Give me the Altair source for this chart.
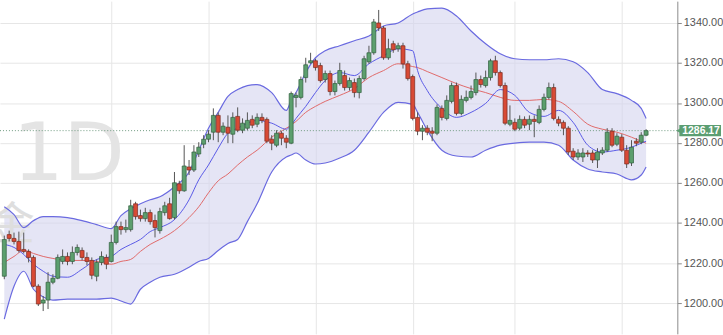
import altair as alt
import pandas as pd
import numpy as np

# ---------------- data ----------------
opens = [1213.4, 1234.2, 1232.3, 1230.8, 1226.8, 1225.8, 1222.8, 1208.4, 1200.0, 1201.5,
         1210.4, 1212.4, 1220.8, 1223.3, 1220.8, 1225.3, 1226.3, 1222.8, 1221.3, 1213.4,
         1220.3, 1222.8, 1220.8, 1230.3, 1238.2, 1236.7, 1236.7, 1249.6, 1243.7, 1242.2,
         1245.2, 1241.2, 1236.2, 1245.2, 1249.6, 1242.7, 1259.6, 1256.1, 1268.0, 1266.5,
         1274.5, 1279.4, 1281.9, 1285.4, 1293.8, 1285.4, 1287.9, 1284.4, 1293.3, 1286.4,
         1287.4, 1291.8, 1289.4, 1292.8, 1291.8, 1281.9, 1278.9, 1284.9, 1282.4, 1279.9,
         1302.8, 1302.8, 1312.7, 1320.1, 1321.1, 1318.7, 1311.7, 1314.7, 1305.7, 1309.7,
         1313.7, 1307.7, 1310.2, 1305.2, 1312.2, 1320.6, 1325.1, 1340.0, 1337.5, 1322.6,
         1329.6, 1327.1, 1328.6, 1319.6, 1313.2, 1292.8, 1285.9, 1287.4, 1285.9, 1284.9,
         1297.3, 1292.3, 1300.8, 1308.7, 1294.8, 1301.3, 1302.8, 1305.2, 1311.7, 1308.7,
         1312.7, 1321.1, 1315.2, 1308.7, 1289.4, 1290.3, 1287.4, 1291.8, 1289.4, 1291.8,
         1290.3, 1296.8, 1302.8, 1307.7, 1291.8, 1290.3, 1287.4, 1275.9, 1273.0, 1273.0,
         1275.0, 1275.0, 1271.5, 1275.0, 1276.4, 1285.9, 1279.4, 1282.9, 1276.4, 1270.0,
         1280.9, 1280.4, 1283.9]
closes = [1231.8, 1232.3, 1230.8, 1226.3, 1225.8, 1222.8, 1208.4, 1199.5, 1201.5, 1210.4,
          1212.4, 1222.8, 1223.3, 1220.8, 1225.3, 1227.8, 1222.8, 1220.8, 1213.9, 1220.3,
          1223.3, 1219.4, 1230.3, 1238.2, 1236.7, 1237.7, 1248.6, 1243.2, 1242.2, 1245.2,
          1240.7, 1237.7, 1245.7, 1248.6, 1242.2, 1260.1, 1256.1, 1268.5, 1266.5, 1275.5,
          1277.9, 1281.9, 1284.4, 1293.8, 1285.4, 1288.4, 1284.9, 1292.8, 1286.4, 1289.9,
          1291.3, 1288.9, 1292.8, 1291.3, 1280.9, 1279.9, 1284.9, 1282.4, 1280.4, 1304.7,
          1303.8, 1311.7, 1319.1, 1321.1, 1317.7, 1311.2, 1314.7, 1305.7, 1309.7, 1316.2,
          1307.7, 1311.2, 1305.2, 1312.2, 1322.1, 1325.1, 1340.5, 1337.5, 1322.6, 1327.1,
          1326.6, 1328.6, 1319.6, 1312.2, 1292.3, 1285.9, 1287.4, 1285.4, 1284.9, 1297.8,
          1292.8, 1301.3, 1308.7, 1294.8, 1301.8, 1302.8, 1305.7, 1311.7, 1309.2, 1312.7,
          1321.1, 1315.2, 1308.7, 1289.9, 1291.3, 1286.9, 1291.8, 1288.9, 1291.8, 1290.8,
          1296.8, 1302.8, 1307.7, 1292.3, 1289.9, 1287.4, 1275.5, 1273.0, 1275.0, 1275.0,
          1274.5, 1271.5, 1275.5, 1276.4, 1285.4, 1278.9, 1283.4, 1276.4, 1269.5, 1277.9,
          1279.9, 1283.9, 1286.17]
highs = [1233.7, 1236.2, 1235.2, 1235.7, 1235.2, 1226.8, 1223.8, 1209.4, 1203.5, 1215.4,
         1214.4, 1224.3, 1226.8, 1225.3, 1228.3, 1229.3, 1227.8, 1225.3, 1222.8, 1221.8,
         1225.8, 1224.3, 1234.2, 1240.7, 1240.7, 1241.7, 1251.6, 1250.6, 1246.7, 1247.6,
         1246.7, 1244.2, 1247.6, 1250.6, 1252.6, 1265.5, 1261.1, 1278.9, 1271.5, 1278.9,
         1280.4, 1283.9, 1286.4, 1297.3, 1295.3, 1290.3, 1293.8, 1295.3, 1297.8, 1292.3,
         1295.3, 1293.8, 1294.8, 1294.8, 1292.8, 1283.9, 1286.4, 1285.9, 1283.9, 1305.7,
         1305.2, 1313.2, 1322.6, 1325.1, 1322.1, 1320.1, 1316.2, 1316.2, 1311.2, 1320.1,
         1316.2, 1312.7, 1312.2, 1313.7, 1323.6, 1328.6, 1342.0, 1346.5, 1338.5, 1332.1,
         1331.1, 1330.1, 1330.1, 1321.1, 1314.2, 1295.3, 1288.9, 1288.9, 1287.9, 1299.3,
         1298.8, 1303.8, 1310.2, 1310.2, 1303.8, 1306.2, 1308.7, 1315.2, 1313.7, 1316.2,
         1322.1, 1323.6, 1316.2, 1310.2, 1298.8, 1292.3, 1293.8, 1293.3, 1293.8, 1293.8,
         1298.8, 1304.7, 1310.2, 1309.7, 1293.3, 1291.3, 1288.4, 1277.4, 1276.9, 1277.4,
         1276.4, 1276.4, 1277.4, 1277.9, 1287.4, 1287.4, 1284.9, 1284.4, 1278.9, 1281.4,
         1282.4, 1285.4, 1286.9]
lows = [1211.9, 1230.8, 1229.3, 1225.3, 1224.8, 1220.3, 1207.9, 1198.5, 1196.0, 1197.0,
        1209.4, 1211.9, 1219.4, 1218.9, 1219.4, 1223.8, 1221.3, 1218.9, 1211.9, 1210.9,
        1218.9, 1216.9, 1220.3, 1229.3, 1234.2, 1235.2, 1235.7, 1241.7, 1240.7, 1240.7,
        1239.2, 1232.8, 1234.7, 1243.7, 1241.7, 1241.7, 1254.6, 1255.6, 1264.0, 1265.5,
        1273.0, 1277.4, 1280.4, 1281.4, 1280.4, 1283.9, 1279.9, 1279.9, 1285.4, 1284.9,
        1286.4, 1287.4, 1287.9, 1289.9, 1279.9, 1276.4, 1277.9, 1278.9, 1277.4, 1279.4,
        1297.8, 1301.8, 1310.2, 1319.6, 1316.2, 1310.2, 1310.2, 1303.8, 1303.8, 1308.7,
        1306.2, 1306.2, 1302.8, 1302.3, 1311.2, 1319.6, 1324.1, 1336.0, 1321.6, 1321.6,
        1325.1, 1325.6, 1317.2, 1311.2, 1291.3, 1283.9, 1281.4, 1283.9, 1280.9, 1283.9,
        1291.3, 1291.3, 1299.8, 1293.8, 1293.8, 1300.3, 1301.8, 1303.8, 1307.7, 1307.7,
        1311.2, 1313.7, 1307.7, 1288.9, 1288.4, 1285.9, 1286.4, 1287.4, 1286.4, 1282.9,
        1289.4, 1295.8, 1301.8, 1291.3, 1288.4, 1283.9, 1274.0, 1271.5, 1271.5, 1270.5,
        1273.0, 1270.0, 1267.5, 1274.0, 1275.5, 1277.9, 1278.4, 1275.5, 1267.5, 1268.5,
        1278.4, 1279.4, 1283.4]

band_idx = [0, 2, 4, 6, 8, 10, 13, 16, 19, 22, 24, 26, 28, 30, 32, 35, 38, 40, 42, 44,
            46, 48, 50, 52, 55, 58, 59, 60, 62, 64, 66, 69, 72, 75, 78, 81, 84, 85, 87, 90,
            93, 96, 99, 102, 105, 108, 111, 114, 117, 120, 123, 126, 129, 131, 132]
upper_band = [1248.1, 1244.2, 1237.7, 1241.2, 1243.2, 1243.2, 1242.7, 1241.2, 1239.2, 1237.2,
              1243.7, 1247.2, 1249.6, 1251.6, 1253.1, 1258.1, 1265.5, 1276.4, 1287.4, 1295.3,
              1303.3, 1306.7, 1308.7, 1309.2, 1305.2, 1296.3, 1301.3, 1305.2, 1315.2, 1322.6,
              1326.1, 1328.6, 1331.1, 1333.5, 1338.5, 1340.0, 1344.5, 1345.5, 1347.0, 1347.4,
              1343.5, 1336.0, 1329.6, 1324.6, 1322.1, 1321.6, 1321.6, 1322.1, 1320.6, 1315.2,
              1306.7, 1304.7, 1301.3, 1297.3, 1292.3]
lower_band = [1192.0, 1208.4, 1215.9, 1206.9, 1203.0, 1201.5, 1202.0, 1202.0, 1202.0, 1202.5,
              1201.0, 1199.5, 1206.9, 1210.4, 1212.9, 1214.4, 1217.9, 1220.8, 1222.3, 1226.3,
              1229.8, 1231.8, 1240.7, 1249.6, 1265.5, 1273.0, 1274.0, 1275.0, 1271.5, 1269.5,
              1270.0, 1272.5, 1276.4, 1285.4, 1295.3, 1300.3, 1299.3, 1295.3, 1286.4, 1276.4,
              1273.5, 1273.0, 1276.4, 1278.9, 1279.9, 1280.4, 1280.4, 1278.9, 1271.5, 1267.0,
              1265.5, 1264.5, 1261.6, 1264.0, 1268.0]
mid_band = [1220.3, 1223.3, 1226.3, 1224.8, 1223.3, 1222.3, 1221.3, 1221.3, 1220.8, 1219.4,
            1220.8, 1221.8, 1225.8, 1229.3, 1231.8, 1236.2, 1242.7, 1248.1, 1255.1, 1261.1,
            1264.5, 1269.0, 1273.0, 1276.4, 1282.9, 1287.4, 1288.9, 1290.8, 1295.3, 1298.3,
            1300.8, 1303.8, 1307.2, 1312.7, 1316.2, 1319.6, 1318.2, 1317.7, 1315.7, 1312.7,
            1309.7, 1307.2, 1305.2, 1302.8, 1301.3, 1301.3, 1301.8, 1300.8, 1295.8, 1289.4,
            1286.9, 1285.4, 1282.9, 1280.9, 1279.9]
fast_ma = [1229.3, 1227.8, 1224.3, 1219.4, 1215.9, 1213.4, 1212.9, 1216.9, 1221.8, 1223.3,
           1226.8, 1229.3, 1231.8, 1235.7, 1237.7, 1241.7, 1251.6, 1261.6, 1269.0, 1277.4,
           1284.9, 1287.4, 1289.9, 1291.3, 1289.9, 1286.9, 1288.9, 1292.3, 1298.3, 1305.2,
           1311.2, 1315.2, 1313.7, 1319.6, 1323.6, 1327.1, 1326.1, 1316.2, 1306.2, 1297.3,
           1292.8, 1295.3, 1299.8, 1306.7, 1303.8, 1295.3, 1293.3, 1296.3, 1290.3, 1278.9,
           1275.5, 1276.4, 1277.9, 1279.9, 1280.9]

month_grid = [22, 42, 64, 84, 105, 127]
price_ticks = [1200, 1220, 1240, 1260, 1280, 1300, 1320, 1340]
last_price = 1286.17

# ---------------- frames ----------------
candles = pd.DataFrame({"i": np.arange(len(opens)), "open": opens, "close": closes,
                        "high": highs, "low": lows})
candles["dir"] = np.where(candles["close"] >= candles["open"], "up", "down")
bands = pd.DataFrame({"i": band_idx, "upper": upper_band, "lower": lower_band,
                      "mid": mid_band, "fast": fast_ma})
last_df = pd.DataFrame({"p": [last_price], "lo": [last_price - 2.8], "hi": [last_price + 2.8],
                        "label": [f"{last_price:.2f}"]})
one = pd.DataFrame({"k": [0]})

xs = alt.Scale(domain=[0.14, 137.4], nice=False, zero=False)
ys = alt.Scale(domain=[1184.6, 1350.9], nice=False, zero=False)

x_axis = alt.Axis(values=month_grid, grid=True, gridColor="#e6e6e6", gridWidth=1,
                  labels=False, ticks=False, domain=False, title=None)
y_axis = alt.Axis(orient="right", values=price_ticks, format=".2f", grid=True,
                  gridColor="#e6e6e6", gridWidth=1, domainColor="#8a8a8a",
                  tickColor="#8a8a8a", tickSize=4, labelFontSize=11, labelColor="#555555",
                  labelFont="Liberation Sans", labelPadding=2, title=None)


def X(field):
    return alt.X(f"{field}:Q", scale=xs, axis=x_axis, title=None)


def Y(field):
    return alt.Y(f"{field}:Q", scale=ys, axis=y_axis, title=None)


band_fill = alt.Chart(bands).mark_area(color="#d3d3ee", opacity=0.6, clip=True,
                                       interpolate="monotone").encode(
    x=X("i"), y=Y("upper"), y2="lower:Q")

watermark_1d = alt.Chart(one).mark_text(text="1D", font="DejaVu Sans", fontSize=80,
                                        color="#e4e4e4", align="left",
                                        baseline="alphabetic", clip=True).encode(
    x=alt.value(13), y=alt.value(180))
watermark_cn = alt.Chart(one).mark_text(text="金", font="Noto Sans CJK SC", fontSize=46,
                                        color="#dedede", align="center",
                                        baseline="middle", clip=True).encode(
    x=alt.value(12), y=alt.value(226))


def band_line(field, color, width):
    return alt.Chart(bands).mark_line(color=color, strokeWidth=width, clip=True,
                                      interpolate="monotone").encode(x=X("i"), y=Y(field))


upper_line = band_line("upper", "#6a6ae0", 1.2)
lower_line = band_line("lower", "#6a6ae0", 1.2)
mid_line = band_line("mid", "#e06a6a", 1.0)
fast_line = band_line("fast", "#5a5ae6", 1.0)

price_rule = alt.Chart(last_df).mark_rule(color="#6f9a80", strokeDash=[1, 2],
                                          strokeWidth=1, clip=True).encode(y=Y("p"))

color_scale = alt.Scale(domain=["up", "down"], range=["#5c9f6e", "#d84a35"])
stroke_scale = alt.Scale(domain=["up", "down"], range=["#2f5e3c", "#7a2a1e"])

wicks = alt.Chart(candles).mark_rule(color="#555555", strokeWidth=1, clip=True).encode(
    x=X("i"), y=Y("low"), y2="high:Q")
bodies = alt.Chart(candles).mark_bar(size=4, strokeWidth=0.7, clip=True).encode(
    x=X("i"), y=Y("open"), y2="close:Q",
    color=alt.Color("dir:N", scale=color_scale, legend=None),
    stroke=alt.Stroke("dir:N", scale=stroke_scale, legend=None),
)

badge = alt.Chart(last_df).mark_rect(color="#5c9e72").encode(
    x=alt.value(684), x2=alt.value(726), y=Y("lo"), y2="hi:Q")
badge_arrow = alt.Chart(last_df).mark_point(shape="triangle-left", filled=True, size=22,
                                            color="#5c9e72", opacity=1).encode(
    x=alt.value(683), y=Y("p"))
badge_text = alt.Chart(last_df).mark_text(color="white", fontSize=10.5, fontWeight="bold",
                                          font="Liberation Sans", align="left",
                                          baseline="middle").encode(
    x=alt.value(687), y=Y("p"), text="label:N")

chart = alt.layer(
    band_fill, watermark_1d, watermark_cn, upper_line, lower_line, mid_line, fast_line,
    price_rule, wicks, bodies, badge, badge_arrow, badge_text,
).properties(width=682, height=335, padding=0, background="white").configure_view(
    strokeWidth=0)

chart.save("out.html", embed_options={"renderer": "svg", "actions": False})
